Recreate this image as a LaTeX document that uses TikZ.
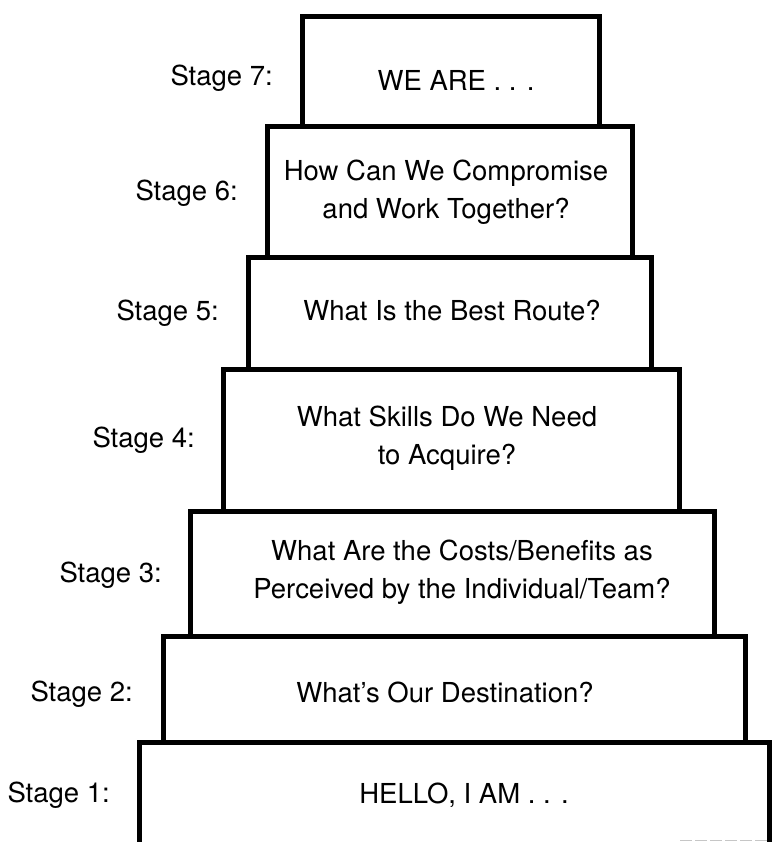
\documentclass[tikz,border=0pt]{standalone}
\usepackage{fontspec}
\setmainfont{TeX Gyre Heros}
\begin{document}
\begin{tikzpicture}[x=1pt,y=-1pt,
  stepbox/.style={draw=black, line width=5pt, rectangle, inner sep=0pt, outer sep=0pt, line join=miter},
  stagelbl/.style={anchor=base east, inner sep=0pt, font=\fontsize{27.5}{38}\selectfont},
  boxtxt/.style={anchor=base, inner sep=0pt, font=\fontsize{27.5}{38}\selectfont},
  boxtxttwo/.style={anchor=center, inner sep=0pt, align=center, font=\fontsize{27.5}{38}\selectfont}]
\useasboundingbox (0,0) rectangle (772,842);
\clip (0,0) rectangle (772,842);
% boxes
\node[stepbox, minimum width=297pt, minimum height=110pt] (b7) at (450.5,72) {};
\node[stepbox, minimum width=365pt, minimum height=130pt] (b6) at (449.5,192) {};
\node[stepbox, minimum width=403pt, minimum height=112pt] (b5) at (449.5,313) {};
\node[stepbox, minimum width=456pt, minimum height=142pt] (b4) at (451,440) {};
\node[stepbox, minimum width=524pt, minimum height=125pt] (b3) at (452,573.5) {};
\node[stepbox, minimum width=582pt, minimum height=106pt] (b2) at (454,689) {};
\node[stepbox, minimum width=630pt, minimum height=140pt] (b1) at (454.5,812) {};
\coordinate (fa) at (680,840.5);
\coordinate (fb) at (769,840.5);
\draw[gray!45, line width=1.5pt, dash pattern=on 12pt off 3pt] (fa) -- (fb);
% box texts
\node[boxtxt] (t7) at (456,91) {WE ARE . . .};
\node[boxtxttwo] (t6) at (446,192) {How Can We Compromise\\and Work Together?};
\node[boxtxt] (t5) at (452,320) {What Is the Best Route?};
\node[boxtxttwo] (t4) at (447,438) {What Skills Do We Need\\to Acquire?};
\node[boxtxttwo] (t3) at (462,572) {What Are the Costs/Benefits as\\Perceived by the Individual/Team?};
\node[boxtxt] (t2) at (445,702) {What’s Our Destination?};
\node[boxtxt] (t1) at (464,803) {HELLO, I AM . . .};
% stage labels
\node[stagelbl] (s7) at (273,86) {Stage 7:};
\node[stagelbl] (s6) at (238,201) {Stage 6:};
\node[stagelbl] (s5) at (219,320) {Stage 5:};
\node[stagelbl] (s4) at (195,447) {Stage 4:};
\node[stagelbl] (s3) at (162,582) {Stage 3:};
\node[stagelbl] (s2) at (133,701) {Stage 2:};
\node[stagelbl] (s1) at (110,802) {Stage 1:};
\end{tikzpicture}
\end{document}
